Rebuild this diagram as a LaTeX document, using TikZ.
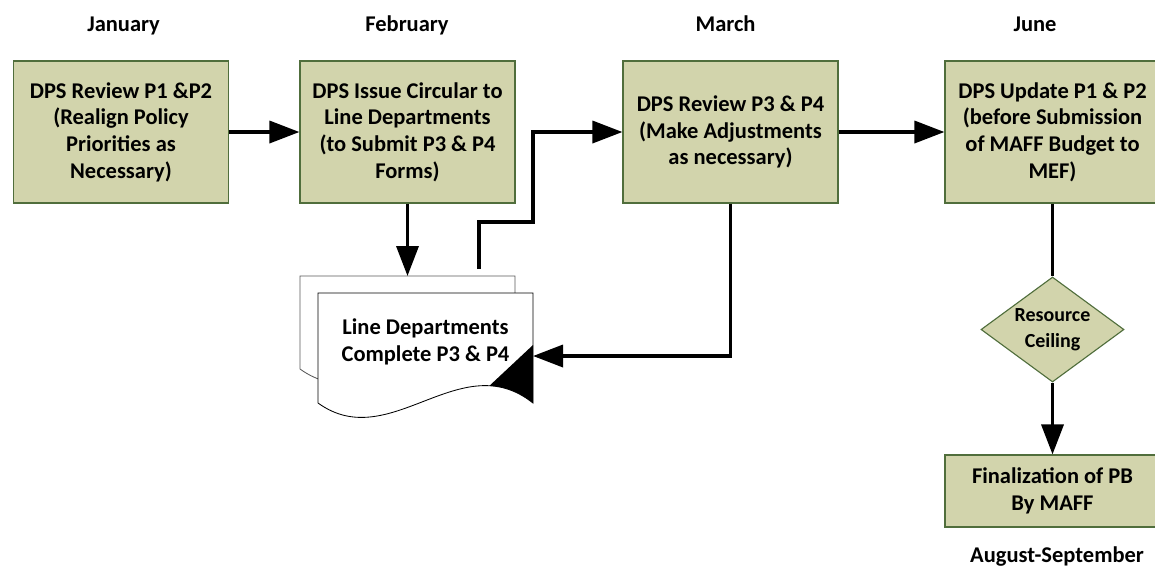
\documentclass[tikz,border=0pt]{standalone}
\usepackage{fontspec}
\setmainfont{Carlito}
\usepackage{xcolor}
\usepackage{tikz}
\usetikzlibrary{shapes, arrows.meta, positioning, calc}

\definecolor{boxfill}{RGB}{210,212,172}
\definecolor{boxline}{RGB}{80,110,60}

\begin{document}
\begin{tikzpicture}[
  box/.style={draw=boxline, line width=0.8pt, fill=boxfill, rectangle, minimum width=5.375cm, minimum height=3.55cm, align=center, inner sep=0pt, font=\fontsize{16}{19}\selectfont\bfseries},
  month/.style={anchor=base, font=\fontsize{16}{19}\selectfont\bfseries},
  flow/.style={line width=2.5pt, -{Triangle[length=0.75cm, width=0.55cm]}},
  link/.style={line width=2.5pt}
]
\useasboundingbox (0,0) rectangle (28.875,-14.275);

% months
\node[month] (m_jan) at (3.09,-0.79) {January};
\node[month] (m_feb) at (10.175,-0.79) {February};
\node[month] (m_mar) at (18.14,-0.79) {March};
\node[month] (m_jun) at (25.875,-0.79) {June};
\node[month] (m_aug) at (26.425,-14.05) {August-September};

% process boxes
\node[box] (jan) at (3.025,-3.3) {DPS Review P1 \&P2\\(Realign Policy\\Priorities as\\Necessary)};
\node[box] (feb) at (10.1875,-3.3) {DPS Issue Circular to\\Line Departments\\(to Submit P3 \& P4\\Forms)};
\node[box] (mar) at (18.2625,-3.3) {DPS Review P3 \& P4\\(Make Adjustments\\as necessary)};
\node[box] (jun) at (26.3125,-3.3) {DPS Update P1 \& P2\\(before Submission\\of MAFF Budget to\\MEF)};
\node[diamond, draw=boxline, fill=boxfill, line width=0.8pt, minimum width=3.575cm, minimum height=2.625cm, inner sep=0pt, aspect=1.36, align=center, font=\fontsize{14.2}{18.5}\selectfont\bfseries] (ceil) at (26.3125,-8.2375) {Resource\\Ceiling};
\node[box, minimum height=1.8cm] (fin) at (26.3125,-12.275) {Finalization of PB\\By MAFF};

% multi-document
\draw[fill=white, draw=gray!70!black, line width=0.6pt] (7.5,-9.225) -- (7.5,-6.9) -- (12.875,-6.9) -- (12.875,-9.225) .. controls (11.05,-7.775) and (9.3,-10.525) .. (7.5,-9.225);
\draw[fill=white, line width=0.6pt] (7.95,-10.075) -- (7.95,-7.325) -- (13.325,-7.325) -- (13.325,-10.075) .. controls (11.5,-8.625) and (9.75,-11.375) .. (7.95,-10.075);
\fill (13.325,-8.625) -- (12.2375,-9.6425) .. controls (12.5975,-9.6625) and (12.96,-9.785) .. (13.325,-10.075) -- cycle;
\node[align=center, font=\fontsize{16}{19}\selectfont\bfseries] (ldc) at (10.6375,-8.55) {Line Departments\\Complete P3 \& P4};

\coordinate (doctop) at (10.1875,-6.9);
\coordinate (docout) at (11.975,-6.725);
\coordinate (docin) at (13.325,-8.9);
\coordinate (turn) at (13.325,-5.55);

% connectors
\draw[flow] (jan) -- (feb);
\draw[flow] (feb) -- (doctop);
\draw[flow] (docout) |- (turn) |- (mar);
\draw[flow] (mar) |- (docin);
\draw[flow] (mar) -- (jun);
\draw[link] (jun) -- (ceil);
\draw[flow] (ceil) -- (fin);
\end{tikzpicture}
\end{document}
